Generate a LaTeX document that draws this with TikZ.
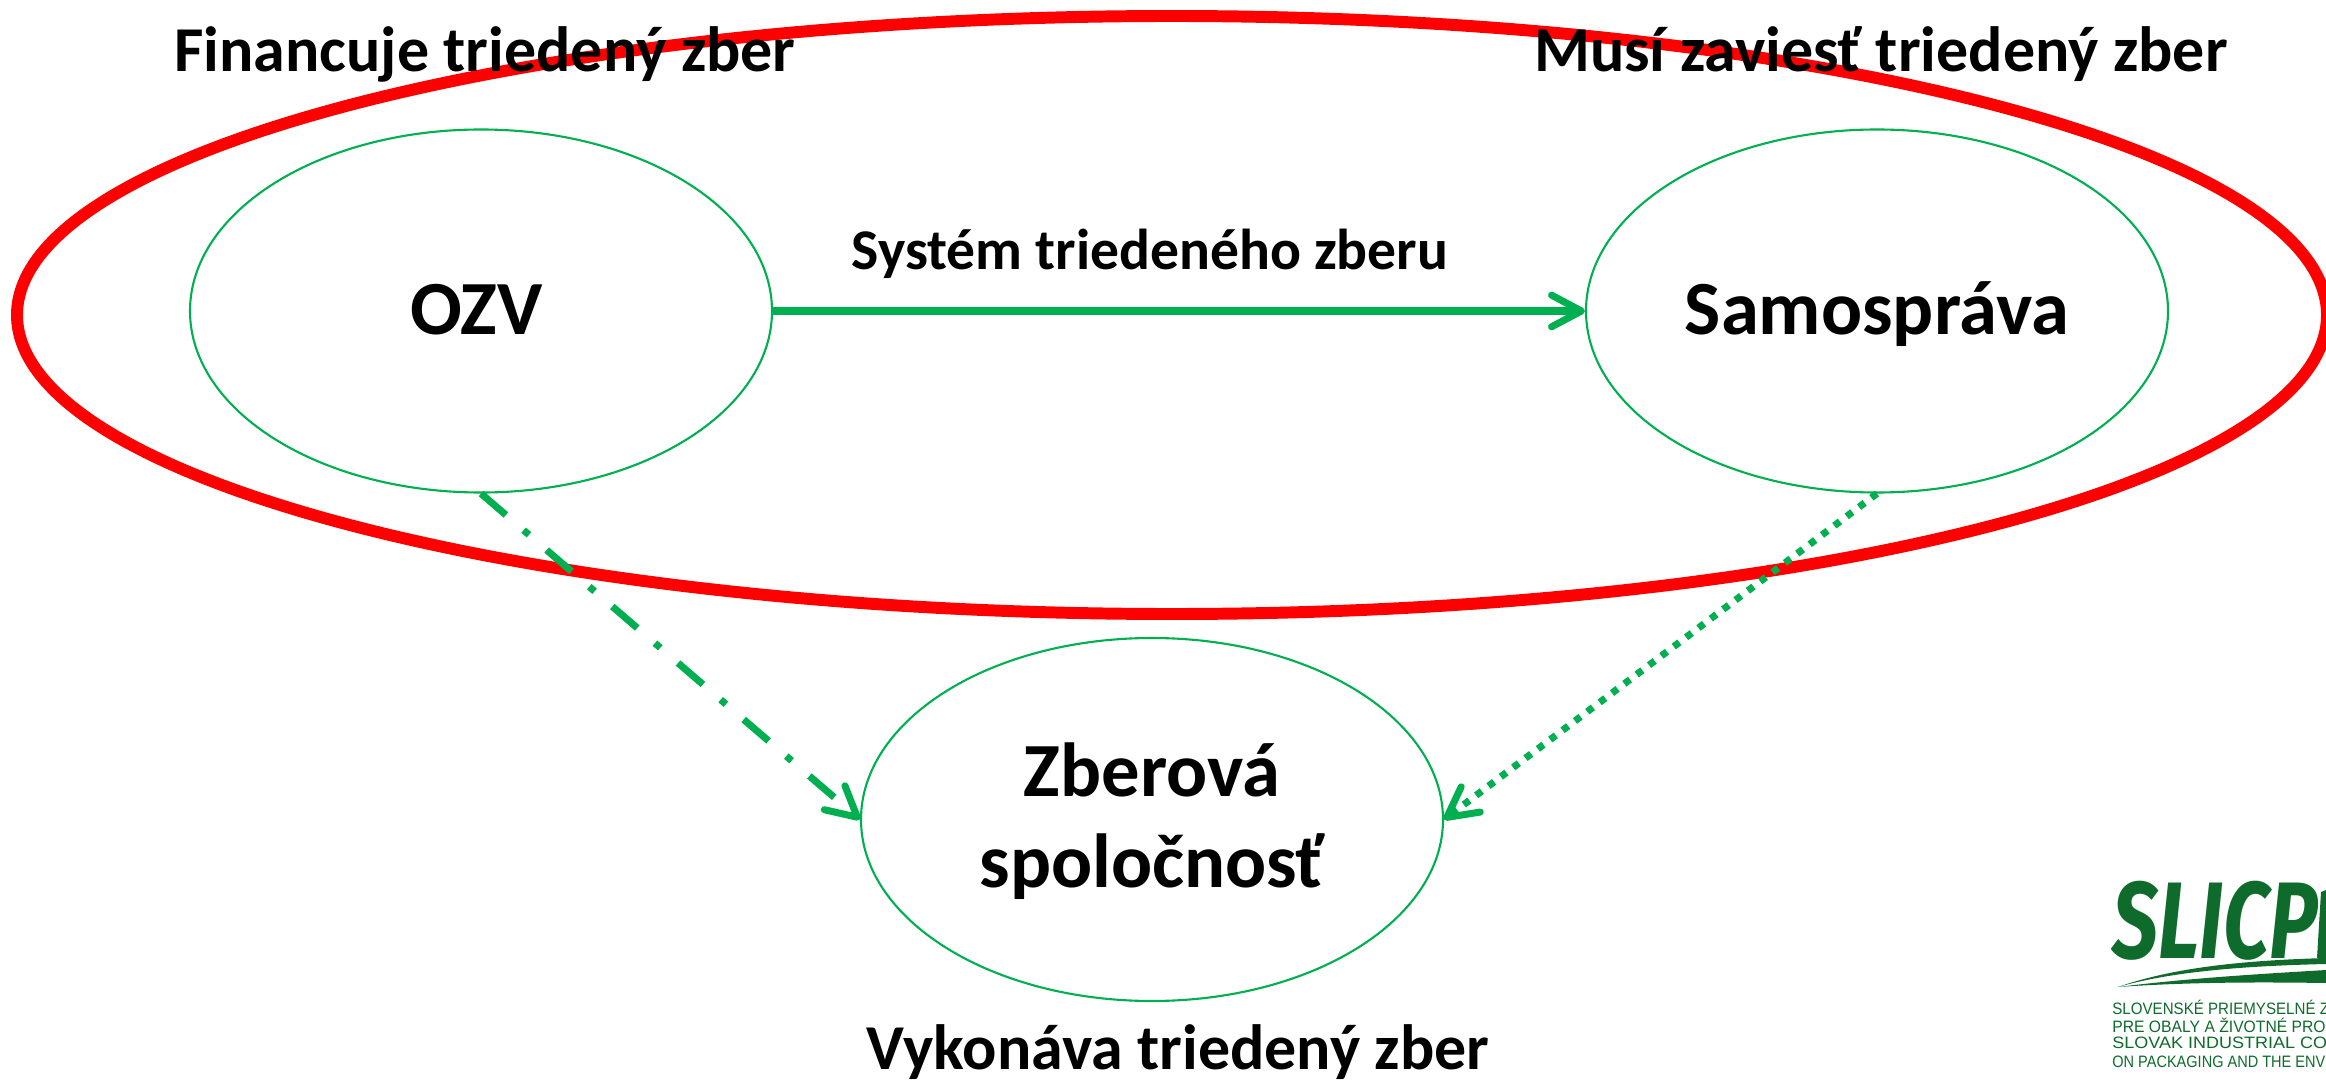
\documentclass[tikz,border=0pt]{standalone}
\usepackage{fontspec}
\setmainfont{Carlito}
\newfontfamily\logofont{Liberation Sans}
\newfontfamily\brandfont[FakeStretch=0.75]{Fira Sans}
\usetikzlibrary{shapes.geometric,arrows.meta}
\definecolor{slpgreen}{HTML}{00B050}
\definecolor{logogreen}{HTML}{0E6B2B}
\begin{document}
\begin{tikzpicture}[x=0.02cm, y=-0.02cm,
		every node/.style={inner sep=0pt},
		party/.style={ellipse, draw=slpgreen, line width=1.2pt, minimum width=582*0.02cm, minimum height=363*0.02cm, align=center, text height=35.5pt, text depth=8.3pt, font=\fontsize{43.6}{52}\selectfont\bfseries},
		role/.style={anchor=base, font=\fontsize{36.4}{44}\selectfont\bfseries},
		flow/.style={draw=slpgreen, line width=4pt, -{Straight Barb[round, length=17pt, width=18pt, line width=4pt]}},
		logoline/.style={anchor=west, text=logogreen}]
	\useasboundingbox (0,0) rectangle (2326,1081);
	\node[ellipse, draw=red, line width=6.8pt, minimum width=2310*0.02cm, minimum height=598*0.02cm] (ring) at (1172,315) {};

	\node[party] (ozv) at (481,311) {OZV\hspace{5pt}};
	\node[party] (samosprava) at (1877,311) {Samospráva};
	\node[party, text height=86pt, text depth=8.4pt] (zberova) at (1152,819.5) {Zberová\\spoločnosť};

	\draw[flow] (ozv) -- (samosprava);
	\draw[flow, dash pattern=on 18.7pt off 13.3pt on 4pt off 13.3pt] (ozv.south) -- (zberova.west);
	\draw[flow, dash pattern=on 4pt off 4.8pt] (samosprava.south) -- (zberova.east);

	\node[role, font=\fontsize{32.8}{40}\selectfont\bfseries] (system) at (1150,270) {Systém triedeného zberu};
	\node[role] (financuje) at (485,72) {Financuje triedený zber};
	\node[role] (musi) at (1881,72) {Musí zaviesť triedený zber};
	\node[role] (vykonava) at (1178,1069) {Vykonáva triedený zber};

	\fill[logogreen] (2118,987) .. controls (2180,965) and (2260,960) .. (2326,958) -- (2326,964) .. controls (2240,966) and (2170,972) .. (2118,987);
	\fill[logogreen] (2118,987) .. controls (2190,978) and (2260,974) .. (2326,970) -- (2326,983) .. controls (2260,982) and (2190,982) .. (2118,987);
	\node[anchor=base west, text=logogreen, font=\brandfont\itshape\bfseries\fontsize{62}{64}\selectfont] (slicp) at (2112,958) {SLICP};
	\fill[logogreen] (2321,892) -- (2326,890) -- (2326,958) -- (2317,958) -- cycle;
	\node[logoline, font=\logofont\addfontfeature{FakeStretch=0.915}\fontsize{9.4}{10}\selectfont] (logoa) at (2112,1007) {SLOVENSKÉ PRIEMYSELNÉ Z};
	\node[logoline, font=\logofont\addfontfeature{FakeStretch=0.95}\fontsize{9.4}{10}\selectfont] (logob) at (2112,1025) {PRE OBALY A ŽIVOTNÉ PRO};
	\node[logoline, font=\logofont\addfontfeature{FakeStretch=1.09}\fontsize{9.4}{10}\selectfont] (logoc) at (2112,1043) {SLOVAK INDUSTRIAL CO};
	\node[logoline, font=\logofont\addfontfeature{FakeStretch=0.88}\fontsize{9.4}{10}\selectfont] (logod) at (2112,1062) {ON PACKAGING AND THE ENV};
\end{tikzpicture}
\end{document}
